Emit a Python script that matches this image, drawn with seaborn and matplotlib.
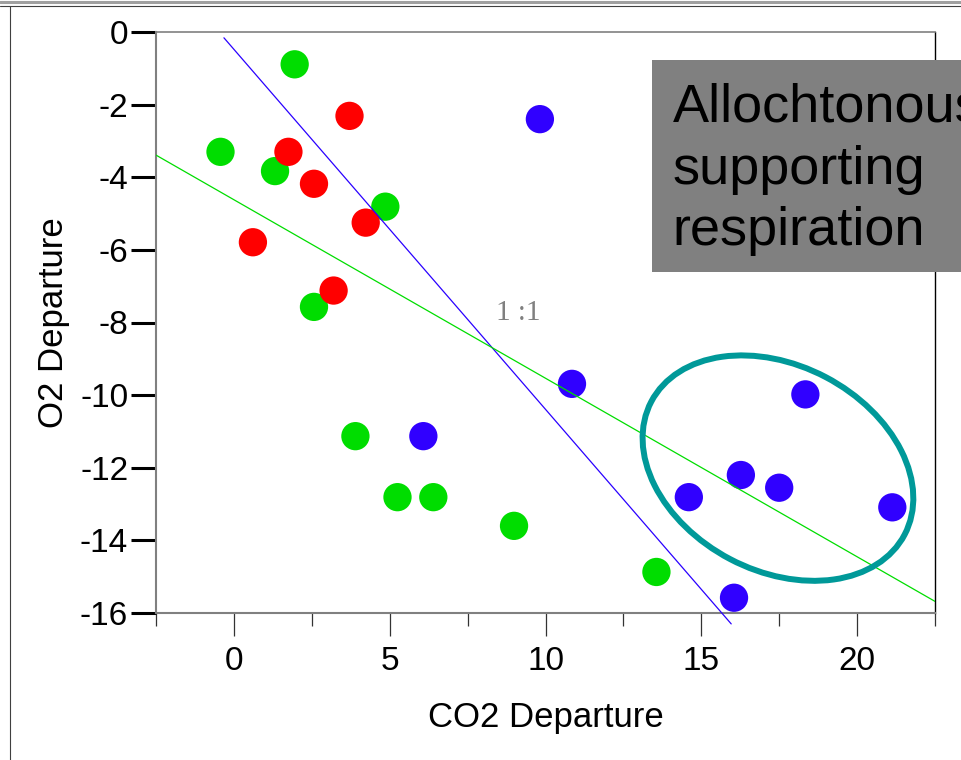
import matplotlib
matplotlib.use("Agg")
import matplotlib.pyplot as plt
import matplotlib.patches as mpatches
import matplotlib.transforms as mtransforms
from matplotlib.lines import Line2D
from matplotlib.ticker import MultipleLocator
import pandas as pd
import seaborn as sns

# points
green_x = [1.95, -0.43, 1.32, 4.86, 2.57, 3.90, 5.25, 6.40, 8.99, 13.56]
green_y = [-0.89, -3.30, -3.83, -4.81, -7.57, -11.13, -12.81, -12.81, -13.60, -14.87]
red_x = [3.71, 1.75, 2.57, 4.23, 0.61, 3.20]
red_y = [-2.31, -3.30, -4.18, -5.25, -5.79, -7.12]
blue_x = [9.82, 10.85, 6.08, 14.60, 16.27, 17.50, 18.34, 21.13, 16.05]
blue_y = [-2.40, -9.69, -11.13, -12.81, -12.20, -12.55, -9.98, -13.09, -15.58]

# reference lines (end points)
one_to_one_x = [-0.32, 15.96]
one_to_one_y = [-0.16, -16.30]
fit_x = [-2.5, 22.5]
fit_y = [-3.39, -15.68]

# circled cluster
ellipse_center = (17.46, -12.01)

y_ticks = [0, -2, -4, -6, -8, -10, -12, -14, -16]
x_ticks = [0, 5, 10, 15, 20]

df = pd.DataFrame({
    "CO2": green_x + red_x + blue_x,
    "O2": green_y + red_y + blue_y,
    "group": ["green"] * len(green_x) + ["red"] * len(red_x) + ["blue"] * len(blue_x),
})
palette = {"green": "#00DD00", "red": "#FF0000", "blue": "#3000FF"}

sns.set_style("white")
plt.rcParams["font.family"] = ["Liberation Sans", "DejaVu Sans"]
plt.rcParams["axes.unicode_minus"] = False
plt.rcParams["text.color"] = "black"
plt.rcParams["axes.labelcolor"] = "black"

fig = plt.figure(figsize=(9.61, 7.60), dpi=100)
ax = fig.add_axes([156 / 961, 147 / 760, 779 / 961, 581 / 760])

sns.scatterplot(data=df, x="CO2", y="O2", hue="group", palette=palette,
                s=415, linewidth=0, legend=False, ax=ax, zorder=2)

ax.plot(one_to_one_x, one_to_one_y, color="#2A00FF", lw=0.9, zorder=3, clip_on=False)
ax.plot(fit_x, fit_y, color="#00DD00", lw=0.9, zorder=3)

# ellipse sized in points, placed at a data position
trans = mtransforms.Affine2D().scale(fig.dpi / 72) + \
    mtransforms.ScaledTranslation(ellipse_center[0], ellipse_center[1], ax.transData)
ax.add_patch(mpatches.Ellipse((0, 0), 206, 148, angle=-27.7, fill=False,
                              edgecolor="#009999", lw=4.3, transform=trans, zorder=4))

ax.text(9.14, -7.75, "1 :1", family="Liberation Serif", fontsize=21,
        color="#808080", ha="center", va="center")

ax.set_xlim(-2.5, 22.5)
ax.set_ylim(-16, 0)
ax.set_xticks(x_ticks)
ax.xaxis.set_minor_locator(MultipleLocator(2.5))
ax.set_yticks(y_ticks)
ax.set_yticklabels([str(t) for t in y_ticks])

ax.tick_params(axis="x", which="major", direction="out", length=16.5, width=0.9,
               color="#333333", labelcolor="black", labelsize=24, pad=7.5, bottom=True)
ax.tick_params(axis="x", which="minor", direction="out", length=9.4, width=0.9,
               color="#333333", bottom=True)
ax.tick_params(axis="y", direction="out", length=18, width=2.2, color="black",
               labelcolor="black", labelsize=24, pad=2, left=True)

for side in ["left", "bottom"]:
    ax.spines[side].set_color("#808080")
    ax.spines[side].set_linewidth(1.5)
ax.spines["top"].set_color("#808080")
ax.spines["top"].set_linewidth(1.2)
ax.spines["right"].set_color("black")
ax.spines["right"].set_linewidth(1.0)

ax.set_xlabel("CO2 Departure", fontsize=25, labelpad=17)
ax.set_ylabel("O2 Departure", fontsize=25, labelpad=7)

# grey note box running off the right edge
fig.add_artist(mpatches.Rectangle((652 / 961, 488.3 / 760), 0.4, 211.7 / 760,
                                  transform=fig.transFigure, facecolor="#808080",
                                  edgecolor="none", zorder=5))
fig.text(672.5 / 961, 1 - 83 / 760, "Allochtonous\nsupporting\nrespiration",
         fontsize=39, color="black", ha="left", va="top", linespacing=1.3, zorder=6)

# slide frame
fig.add_artist(Line2D([0, 1], [1 - 1.5 / 760] * 2, transform=fig.transFigure,
                      color="#A0A0A0", lw=2.2))
fig.add_artist(Line2D([0, 1], [1 - 5.5 / 760] * 2, transform=fig.transFigure,
                      color="#404040", lw=0.8))
fig.add_artist(Line2D([10 / 961] * 2, [0, 1 - 5.5 / 760], transform=fig.transFigure,
                      color="#404040", lw=0.8))

fig.savefig("out.png", dpi=100)
